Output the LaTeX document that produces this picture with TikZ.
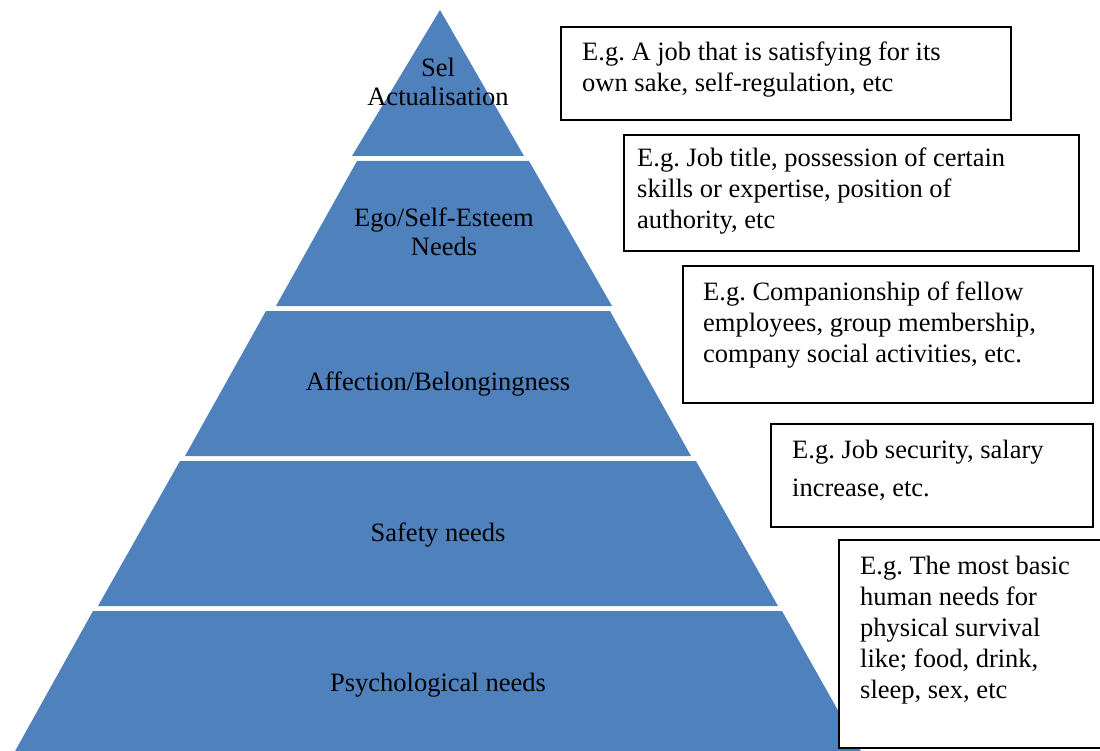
\documentclass[tikz,border=0pt]{standalone}
\usepackage{fontspec}
\setmainfont{Liberation Serif}
\frenchspacing
\definecolor{tierblue}{HTML}{4F81BD}
\begin{document}
\begin{tikzpicture}[x=1pt,y=-1pt,
  tier/.style={fill=tierblue,draw=none},
  % multi-line labels are placed by the baseline of their last line
  tierlabel/.style={inner sep=0pt,anchor=base,align=center,
    font=\fontsize{26.5}{29}\selectfont},
  notebox/.style={draw=black,line width=1.5pt,fill=white,inner sep=0pt},
  notetext/.style={inner sep=0pt,anchor=base west,align=left,
    font=\fontsize{26.5}{31}\selectfont}]
\useasboundingbox (0,0) rectangle (1100,751);
\clip (0,0) rectangle (1100,751);

% pyramid tiers, top to bottom
\fill[tier] (440,10) -- (524,156) -- (352,156) -- cycle;
\fill[tier] (357,161) -- (529,161) -- (612,306) -- (276,306) -- cycle;
\fill[tier] (266,311) -- (610,311) -- (691,456) -- (185,456) -- cycle;
\fill[tier] (180,461) -- (696,461) -- (778,606) -- (98,606) -- cycle;
\fill[tier] (93,611) -- (782,611) -- (862,753) -- (14,753) -- cycle;

% tier labels
\node[tierlabel] (t1) at (438,106) {Sel\\Actualisation};
\node[tierlabel] (t2) at (444,256) {Ego/Self-Esteem\\Needs};
\node[tierlabel] (t3) at (438,390) {Affection/Belongingness};
\node[tierlabel] (t4) at (438,541) {Safety needs};
\node[tierlabel] (t5) at (438,691) {Psychological needs};

% example boxes
\draw[notebox] (561,27) rectangle (1011,120);
\node[notetext] (e1) at (582,92) {E.g. A job that is satisfying for its\\own sake, self-regulation, etc};

\draw[notebox] (624,135) rectangle (1079,251);
\node[notetext] (e2) at (637,229) {E.g. Job title, possession of certain\\skills or expertise, position of\\authority, etc};

\draw[notebox] (683,266) rectangle (1093,403);
\node[notetext] (e3) at (703,362) {E.g. Companionship of fellow\\employees, group membership,\\company social activities, etc.};

\draw[notebox] (771,424) rectangle (1093,527);
\node[notetext,font=\fontsize{26.5}{38}\selectfont] (e4) at (792,496) {E.g. Job security, salary\\increase, etc.};

\draw[notebox] (839,540) rectangle (1112,748);
\node[notetext] (e5) at (860,698) {E.g. The most basic\\human needs for\\physical survival\\like; food, drink,\\sleep, sex, etc};
\end{tikzpicture}
\end{document}
